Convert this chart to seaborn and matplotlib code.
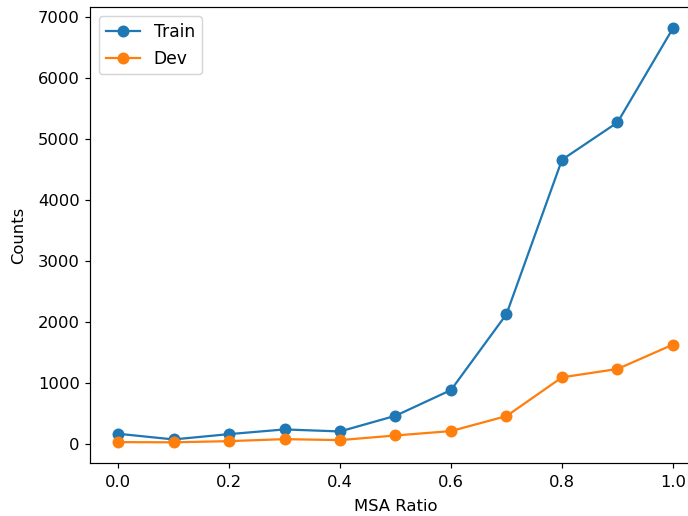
import pandas as pd
import matplotlib
matplotlib.use("Agg")
import matplotlib.pyplot as plt
import seaborn as sns

# Data
msa_ratio = [0.0, 0.1, 0.2, 0.3, 0.4, 0.5, 0.6, 0.7, 0.8, 0.9, 1.0]
train_counts = [170, 77, 164, 241, 208, 465, 887, 2131, 4662, 5274, 6819]
dev_counts = [33, 30, 49, 82, 66, 142, 214, 460, 1095, 1232, 1632]

df = pd.DataFrame({
    "ratio": msa_ratio * 2,
    "count": train_counts + dev_counts,
    "split": ["Train"] * len(msa_ratio) + ["Dev"] * len(msa_ratio),
})

plt.rcParams["font.size"] = 11

fig = plt.figure(figsize=(6.4, 4.8), dpi=107.5)
# the reference is cropped on the right, so the axes runs past the figure edge
ax = fig.add_axes([0.1312, 0.1027, 1.0185 - 0.1312, 0.9855 - 0.1027])
sns.lineplot(
    data=df,
    x="ratio",
    y="count",
    hue="split",
    hue_order=["Train", "Dev"],
    palette=["#1f77b4", "#ff7f0e"],
    marker="o",
    markersize=8,
    markeredgewidth=0,
    linewidth=1.5,
    ax=ax,
)
ax.tick_params(axis="x", pad=4.5)
ax.set_xlabel("MSA Ratio", labelpad=6)
ax.set_ylabel("Counts", labelpad=7.5)
ax.legend(loc="upper left", title=None, fontsize=11.5)

fig.savefig("out.png", dpi=107.5)
